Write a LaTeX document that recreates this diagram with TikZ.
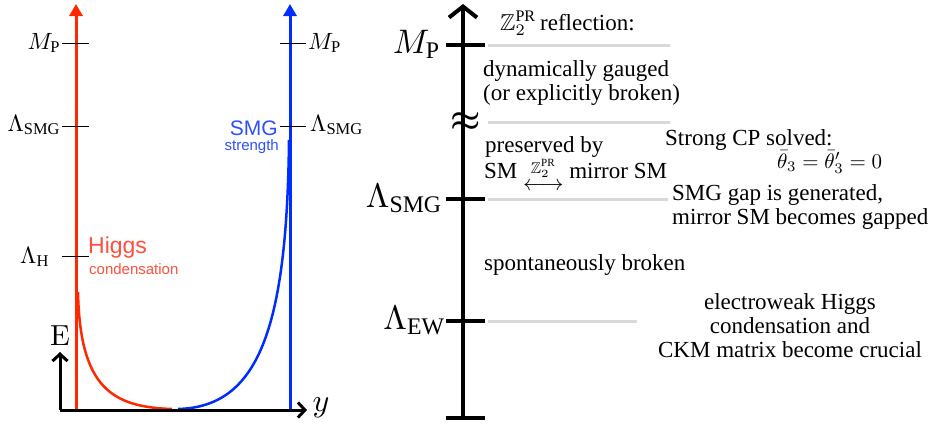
\RequirePackage{fix-cm}
\documentclass[tikz,border=0pt]{standalone}
\usepackage{amsmath,amssymb}
\usepackage{fontspec}
\setmainfont{Liberation Serif}
\setsansfont{Liberation Sans}
\usetikzlibrary{arrows.meta}
\newcommand{\mth}[2]{\scalebox{#1}{\fontsize{10}{12}\selectfont$#2$}}
\definecolor{hred}{RGB}{255,40,0}
\definecolor{hredtxt}{RGB}{255,80,60}
\definecolor{sblue}{RGB}{0,45,255}
\definecolor{sbluetxt}{RGB}{45,80,255}
\definecolor{lgray}{RGB}{217,217,217}
\tikzset{
  colline/.style={line width=3pt,-{Triangle[length=12pt,width=13pt]}},
  tickl/.style={black,line width=0.9pt},
  smalllbl/.style={inner sep=0pt},
  biglbl/.style={inner sep=0pt,anchor=base east},
  axisblk/.style={black,line width=3pt,-{Straight Barb[length=7pt,width=15pt]}},
  graylev/.style={lgray,line width=3pt},
  rtxt/.style={font=\fontsize{23}{26}\selectfont,inner sep=0pt,anchor=base west},
  bigtick/.style={black,line width=4pt},
}
\begin{document}
\begin{tikzpicture}[x=1pt,y=-1pt]
\useasboundingbox (0,0) rectangle (936,423);
% ---------- left panel ----------
\coordinate (rb) at (76,410); \coordinate (rt) at (76,4);
\coordinate (bb) at (290,410); \coordinate (bt) at (290,4);
\draw[colline,hred] (rb) -- (rt);
\draw[colline,sblue] (bb) -- (bt);
% curves
\draw[hred,line width=2.5pt] (78,292) .. controls (80,388) and (112,407) .. (172,409);
\draw[sblue,line width=2.5pt] (178,409) .. controls (258,407) and (287,330) .. (289,140);
% axes
\coordinate (o) at (60,410);
\coordinate (etip) at (60,352);
\coordinate (ytip) at (307,410);
\draw[axisblk] (o) -- (etip);
\draw[axisblk] (o) -- (ytip);
\node[inner sep=0pt,anchor=base] (E) at (60,345) {\scalebox{2.9}{\fontsize{10}{12}\usefont{OT1}{cmr}{m}{n}E}};
\node[inner sep=0pt,anchor=base] (ylab) at (321,411) {\mth{3.2}{y}};
% ticks red
\coordinate (rmpa) at (62,43); \coordinate (rmpb) at (89,43);
\coordinate (rsga) at (62,126); \coordinate (rsgb) at (89,126);
\coordinate (rha) at (62,256); \coordinate (rhb) at (89,256);
\draw[tickl] (rmpa) -- (rmpb);
\draw[tickl] (rsga) -- (rsgb);
\draw[tickl] (rha) -- (rhb);
% ticks blue
\coordinate (bmpa) at (280,43); \coordinate (bmpb) at (306,43);
\coordinate (bsga) at (280,126); \coordinate (bsgb) at (306,126);
\draw[tickl] (bmpa) -- (bmpb);
\draw[tickl] (bsga) -- (bsgb);
% left labels
\node[smalllbl,anchor=base east] (lmp) at (61,49) {\mth{2.35}{M_{\rm P}}};
\node[smalllbl,anchor=base east] (lsg) at (61,131) {\mth{2.35}{\Lambda_{\rm SMG}}};
\node[smalllbl,anchor=base west] (lh) at (20,263) {\mth{2.35}{\Lambda_{\rm H}}};
\node[smalllbl,anchor=base west] (bmp) at (308,49) {\mth{2.35}{M_{\rm P}}};
\node[smalllbl,anchor=base west] (bsg) at (310,131) {\mth{2.35}{\Lambda_{\rm SMG}}};
\node[inner sep=0pt,anchor=base west,text=hredtxt,font=\sffamily\fontsize{23}{25}\selectfont] (higgs) at (88,253) {Higgs};
\node[inner sep=0pt,anchor=base west,text=hredtxt,font=\sffamily\fontsize{15}{17}\selectfont] (cond) at (89,274) {condensation};
\node[inner sep=0pt,anchor=base east,text=sbluetxt,font=\sffamily\fontsize{21}{23}\selectfont] (smg) at (278,135) {SMG};
\node[inner sep=0pt,anchor=base east,text=sbluetxt,font=\sffamily\fontsize{15}{17}\selectfont] (str) at (279,150) {strength};
% ---------- right panel ----------
\coordinate (ab) at (463,418); \coordinate (at) at (463,4);
\draw[black,line width=4pt,-{Straight Barb[length=11pt,width=28pt]}] (ab) -- (at);
\coordinate (bara) at (446,418); \coordinate (barb) at (485,418);
\draw[bigtick] (bara) -- (barb);
\coordinate (mpa) at (446,45); \coordinate (mpb) at (485,45);
\coordinate (sga) at (446,199); \coordinate (sgb) at (485,199);
\coordinate (ewa) at (446,321); \coordinate (ewb) at (485,321);
\draw[bigtick] (mpa) -- (mpb);
\draw[bigtick] (sga) -- (sgb);
\draw[bigtick] (ewa) -- (ewb);
% gray level lines
\coordinate (g1a) at (488,45); \coordinate (g1b) at (670,45);
\coordinate (g2a) at (488,122); \coordinate (g2b) at (670,122);
\coordinate (g3a) at (488,199); \coordinate (g3b) at (668,199);
\coordinate (g4a) at (488,321); \coordinate (g4b) at (637,321);
\draw[graylev] (g1a) -- (g1b);
\draw[graylev] (g2a) -- (g2b);
\draw[graylev] (g3a) -- (g3b);
\draw[graylev] (g4a) -- (g4b);
\node[inner sep=0pt] (approx) at (466,122) {\mth{3.4}{\boldsymbol{\approx}}};
% big labels
\node[biglbl] (rmp) at (441,53) {\mth{3.4}{M_{\rm P}}};
\node[biglbl] (rsg) at (443,207) {\mth{3.4}{\Lambda_{\rm SMG}}};
\node[biglbl] (rew) at (446,329) {\mth{3.4}{\Lambda_{\rm EW}}};
% texts
\node[rtxt] (refl) at (500,30) {\mth{2.3}{\mathbb{Z}_2^{\rm PR}}\,reflection:};
\node[rtxt] (dyn) at (483,76) {dynamically gauged};
\node[rtxt] (expl) at (483,100) {(or explicitly broken)};
\node[rtxt] (pres) at (485,152) {preserved by};
\node[rtxt] (mirr) at (484,178) {SM \raisebox{5pt}{\mth{2.2}{\underset{\textstyle\longleftrightarrow}{\scriptstyle\mathbb{Z}_2^{\rm PR}}}} mirror SM};
\node[rtxt] (scp) at (665,145) {Strong CP solved:};
\node[inner sep=0pt,anchor=base west] (theta) at (777,168) {\mth{2.1}{\bar\theta_3=\bar\theta'_3=0}};
\node[rtxt] (gap1) at (672,200) {SMG gap is generated,};
\node[rtxt] (gap2) at (672,224) {mirror SM becomes gapped};
\node[rtxt] (spont) at (484,270) {spontaneously broken};
\node[inner sep=0pt,anchor=base,font=\fontsize{23}{26}\selectfont] (ew1) at (790,309) {electroweak Higgs};
\node[inner sep=0pt,anchor=base,font=\fontsize{23}{26}\selectfont] (ew2) at (790,333) {condensation and};
\node[inner sep=0pt,anchor=base,font=\fontsize{23}{26}\selectfont] (ew3) at (790,357) {CKM matrix become crucial};
\end{tikzpicture}
\end{document}
